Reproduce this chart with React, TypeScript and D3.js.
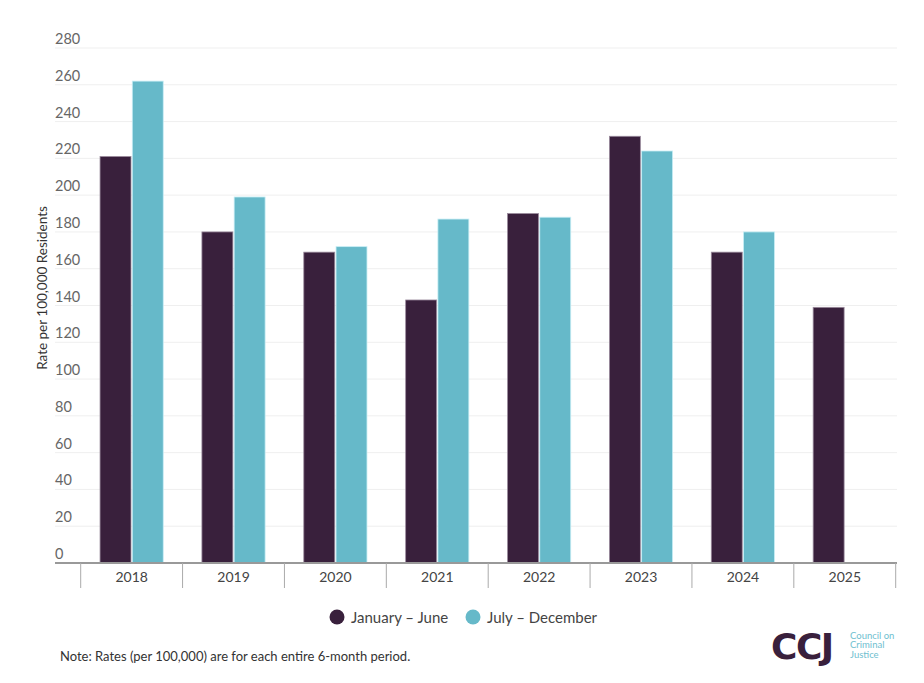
import React, { useRef, useEffect } from 'react';
import { select, scaleBand, scaleLinear, range } from 'd3';

const years = ['2018', '2019', '2020', '2021', '2022', '2023', '2024', '2025'];
const janJune = [221, 180, 169, 143, 190, 232, 169, 139];
const julDec: (number | null)[] = [262, 199, 172, 187, 188, 224, 180, null];
const yTicks = [0, 20, 40, 60, 80, 100, 120, 140, 160, 180, 200, 220, 240, 260, 280];
const seriesNames = ['January – June', 'July – December'];
const seriesColors = ['#39203c', '#66b9c9'];

const W = 924;
const H = 683;
const FONT = 'Lato, "Open Sans", sans-serif';

export default function App() {
    const ref = useRef<SVGSVGElement | null>(null);

    useEffect(() => {
        if (!ref.current) return;
        const svg = select(ref.current);
        svg.selectAll('*').remove();

        const plotLeft = 55;
        const plotRight = 897;
        const baseY = 563;

        const x = scaleBand<string>().domain(years).range([80.7, 895.7]).paddingInner(0).paddingOuter(0);
        const inner = scaleBand<number>().domain([0, 1]).range([0, x.bandwidth()]).paddingOuter(0.6).paddingInner(0.04);
        const y = scaleLinear().domain([0, 280]).range([baseY, 48]);

        // grid
        svg.append('g')
            .selectAll('line')
            .data(yTicks.slice(1))
            .join('line')
            .attr('x1', plotLeft)
            .attr('x2', plotRight)
            .attr('y1', d => y(d))
            .attr('y2', d => y(d))
            .attr('stroke', '#efefef')
            .attr('stroke-width', 1);

        // y labels sit above their gridline
        svg.append('g')
            .selectAll('text')
            .data(yTicks)
            .join('text')
            .attr('x', plotLeft)
            .attr('y', d => y(d) - 4)
            .attr('font-family', FONT)
            .attr('font-size', 14.5)
            .attr('fill', '#666')
            .text(d => d);

        // bars
        const series = [janJune, julDec];
        series.forEach((vals, si) => {
            svg.append('g')
                .selectAll('rect')
                .data(range(years.length).filter(i => vals[i] != null))
                .join('rect')
                .attr('x', i => (x(years[i]) as number) + (inner(si) as number))
                .attr('width', inner.bandwidth())
                .attr('y', i => y(vals[i] as number))
                .attr('height', i => baseY - y(vals[i] as number))
                .attr('fill', seriesColors[si])
                .attr('stroke', si === 0 ? '#9a8a9c' : '#c8eef5')
                .attr('stroke-width', 0.8);
        });

        // x axis
        svg.append('line')
            .attr('x1', plotLeft)
            .attr('x2', plotRight)
            .attr('y1', baseY)
            .attr('y2', baseY)
            .attr('stroke', '#999')
            .attr('stroke-width', 2);

        const bounds = years.map(d => x(d) as number).concat([(x(years[years.length - 1]) as number) + x.bandwidth()]);
        svg.append('g')
            .selectAll('line')
            .data(bounds)
            .join('line')
            .attr('x1', d => d)
            .attr('x2', d => d)
            .attr('y1', baseY)
            .attr('y2', 588)
            .attr('stroke', '#aaa')
            .attr('stroke-width', 1);

        svg.append('g')
            .selectAll('text')
            .data(years)
            .join('text')
            .attr('x', d => (x(d) as number) + x.bandwidth() / 2)
            .attr('y', 582)
            .attr('text-anchor', 'middle')
            .attr('font-family', FONT)
            .attr('font-size', 14)
            .attr('fill', '#444')
            .text(d => d);

        // y title
        svg.append('text')
            .attr('transform', `translate(47, 288) rotate(-90)`)
            .attr('text-anchor', 'middle')
            .attr('font-family', FONT)
            .attr('font-size', 13.5)
            .attr('fill', '#333')
            .text('Rate per 100,000 Residents');

        // legend
        const legendX = [337, 473];
        seriesNames.forEach((name, i) => {
            svg.append('circle')
                .attr('cx', legendX[i])
                .attr('cy', 617)
                .attr('r', 7.5)
                .attr('fill', seriesColors[i]);
            svg.append('text')
                .attr('x', legendX[i] + 14)
                .attr('y', 622.5)
                .attr('font-family', FONT)
                .attr('font-size', 15)
                .attr('fill', '#444')
                .text(name);
        });

        // note
        svg.append('text')
            .attr('x', 60)
            .attr('y', 661)
            .attr('font-family', FONT)
            .attr('font-size', 13)
            .attr('fill', '#333')
            .text('Note: Rates (per 100,000) are for each entire 6-month period.');

        // logo
        svg.append('text')
            .attr('x', 771)
            .attr('y', 659)
            .attr('font-family', '"DejaVu Sans", sans-serif')
            .attr('font-weight', 'bold')
            .attr('font-size', 36)
            .attr('letter-spacing', -1.5)
            .attr('fill', '#39203c')
            .text('CCJ');
        ['Council on', 'Criminal', 'Justice'].forEach((t, i) => {
            svg.append('text')
                .attr('x', 850)
                .attr('y', 638.5 + i * 9.5)
                .attr('font-family', FONT)
                .attr('font-size', 9.5)
                .attr('fill', '#6fc0cf')
                .text(t);
        });
    }, []);

    return (
        <svg
            ref={ref}
            width={W}
            height={H}
            style={{ position: 'absolute', left: 0, top: 0, background: '#fff' }}
        />
    );
}
